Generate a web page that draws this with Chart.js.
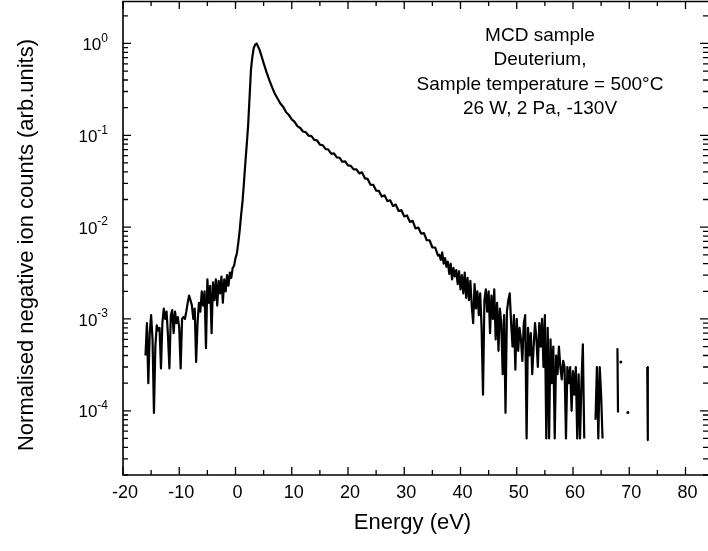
<!DOCTYPE html>
<html>
<head>
<meta charset="utf-8">
<script src="https://cdn.jsdelivr.net/npm/chart.js@4.4.1/dist/chart.umd.min.js"></script>
<style>
  body { margin: 0; background: #fff; }
  canvas { display: block; }
</style>
</head>
<body>
<canvas id="spectrum" width="708" height="551"></canvas>
<script>
// Energy (eV) of each channel
const energy = [
  -16, -15.75, -15.5, -15.25, -15, -14.75, -14.5, -14.25, -14, -13.75,
  -13.5, -13.25, -13, -12.75, -12.5, -12.25, -12, -11.75, -11.5, -11.25,
  -11, -10.75, -10.5, -10.25, -10, -9.75, -9.5, -9.25, -9, -8.75,
  -8.5, -8.25, -8, -7.75, -7.5, -7.25, -7, -6.75, -6.5, -6.25,
  -6, -5.75, -5.5, -5.25, -5, -4.75, -4.5, -4.25, -4, -3.75,
  -3.5, -3.25, -3, -2.75, -2.5, -2.25, -2, -1.75, -1.5, -1.25,
  -1, -0.75, -0.5, -0.25,
  0, 0.25, 0.5, 0.75, 1, 1.25, 1.5, 1.75, 2, 2.25,
  2.5, 2.75, 3, 3.25, 3.5, 3.75, 4, 4.25, 4.5, 4.75,
  5,
  5.5, 6, 6.5, 7, 7.5, 8, 8.5, 9, 9.5, 10,
  10.5, 11, 11.5, 12, 12.5, 13, 13.5, 14, 14.5, 15,
  15.5, 16, 16.5, 17, 17.5, 18, 18.5, 19, 19.5, 20,
  20.5, 21, 21.5, 22, 22.5, 23, 23.5, 24, 24.5, 25,
  25.5, 26, 26.5, 27, 27.5, 28, 28.5, 29, 29.5, 30,
  30.5, 31, 31.5, 32, 32.5, 33, 33.5, 34, 34.5, 35,
  35.5, 36,
  36.25, 36.5, 36.75, 37, 37.25, 37.5, 37.75, 38, 38.25, 38.5,
  38.75, 39, 39.25, 39.5, 39.75, 40, 40.25, 40.5, 40.75, 41,
  41.25, 41.5, 41.75, 42, 42.25, 42.5, 42.75, 43, 43.25, 43.5,
  43.75, 44, 44.25, 44.5, 44.75, 45, 45.25, 45.5, 45.75, 46,
  46.25, 46.5, 46.75, 47, 47.25, 47.5, 47.75, 48, 48.25, 48.5,
  48.75, 49, 49.25, 49.5, 49.75, 50, 50.25, 50.5, 50.75, 51,
  51.25, 51.5, 51.75, 52, 52.25, 52.5, 52.75, 53, 53.25, 53.5,
  53.75, 54, 54.25, 54.5, 54.75, 55, 55.25, 55.5, 55.75, 56,
  56.25, 56.5, 56.75, 57, 57.25, 57.5, 57.75, 58, 58.25, 58.5,
  58.75, 59, 59.25, 59.5, 59.75, 60, 60.25, 60.5, 60.75, 61,
  61.25, 61.5, 61.75, 62, 62.25, 62.5, 62.75, 63, 63.25, 63.5,
  63.75, 64, 64.25, 64.5, 64.75, 65, 65.25, 65.5,
  67.9, 68, 68.25, 68.5, 68.75, 69.75, 70, 73.2, 73.3
];

// Normalised negative ion counts, same order (null = no counts, gap in the log plot)
const counts = [
  4.0e-4, 9.0e-4, 2.0e-4, 7.0e-4, 1.1e-3, 6.0e-4, 9.5e-5, 5.0e-4, 8.5e-4, 7.5e-4,
  8.0e-4, 2.9e-4, 9.0e-4, 1.3e-3, 1.0e-3, 1.2e-3, 6.5e-4, 2.9e-4, 1.1e-3, 1.25e-3,
  7.0e-4, 1.2e-3, 9.0e-4, 1.05e-3, 8.0e-4, 2.9e-4, 1.0e-3, 1.05e-3, 1.0e-3, 1.2e-3,
  1.5e-3, 1.8e-3, 1.6e-3, 1.4e-3, 1.0e-3, 1.3e-3, 3.4e-4, 9.0e-4, 1.5e-3, 1.2e-3,
  2.0e-3, 1.4e-3, 2.0e-3, 4.8e-4, 2.7e-3, 1.5e-3, 2.3e-3, 7.0e-4, 2.5e-3, 1.6e-3,
  2.7e-3, 1.4e-3, 2.6e-3, 1.9e-3, 2.9e-3, 1.5e-3, 2.7e-3, 2.0e-3, 3.0e-3, 2.3e-3,
  3.2e-3, 2.8e-3, 3.6e-3, 3.8e-3,
  4.6e-3, 5.2e-3, 6.8e-3, 9.3e-3, 0.0136, 0.019, 0.0305, 0.05, 0.079, 0.13,
  0.26, 0.52, 0.72, 0.9, 0.97, 1.0, 0.93, 0.86, 0.77, 0.69,
  0.61,
  0.49, 0.40, 0.335, 0.283, 0.250, 0.221, 0.203, 0.178, 0.166, 0.149,
  0.140, 0.126, 0.120, 0.110, 0.108, 0.099, 0.098, 0.089, 0.088, 0.079,
  0.078, 0.071, 0.070, 0.063, 0.0635, 0.0575, 0.057, 0.0515, 0.052, 0.047,
  0.0465, 0.0425, 0.0425, 0.0385, 0.0395, 0.034, 0.0335, 0.029, 0.0288, 0.025,
  0.0248, 0.0215, 0.0222, 0.0192, 0.0196, 0.017, 0.0176, 0.015, 0.0153, 0.0131,
  0.0134, 0.0114, 0.0117, 0.0097, 0.0099, 0.0085, 0.0086, 0.0072, 0.0072, 0.006,
  0.006, 0.0049,
  0.0050, 0.0044, 0.0053, 0.0040, 0.0046, 0.0037, 0.0042, 0.0031, 0.0040, 0.0027,
  0.0036, 0.0029, 0.0034, 0.0024, 0.0033, 0.0021, 0.0030, 0.0019, 0.0032, 0.0017,
  0.0028, 0.0016, 0.0026, 0.0014, 0.0009, 0.0024, 0.0013, 0.0020, 0.0011, 0.0019,
  0.0008, 0.00015, 0.0016, 0.0021, 0.0012, 0.0020, 0.0007, 0.0018, 0.0010, 0.0021,
  0.0006, 0.0015, 0.00045, 0.0013, 0.0009, 0.00025, 0.0011, 0.000095, 0.0012, 0.0016,
  0.0019, 0.0009, 0.0005, 0.0011, 0.00028, 0.0010, 0.00045, 0.0008, 0.0006, 0.00035,
  0.0009, 0.0011, 0.00005, 0.0008, 0.0004, 0.0007, 0.00025, 0.0005, 0.0009, 0.0006,
  0.0003, 0.0009, 0.0005, 0.0010, 0.0003, 0.0011, 0.00005, 0.0008, 0.00005, 0.0006,
  0.0002, 0.0005, 0.00005, 0.0004, 0.00025, 0.0005, 0.0003, 0.00022, 0.00035, 0.0003,
  0.00005, 0.0003, 0.0002, 0.0003, 0.0001, 0.00027, 0.00015, 0.0003, 0.00005, 0.00025,
  0.00005, 0.0002, 0.00053, 0.00005, null, null, null, null, null, null,
  null, 0.00008, 0.0003, 0.00005, 0.0003, 0.00015, 0.00005, null,
  0.00048, 0.000096, null, 0.00034, null, 0.000096, null, 0.0003, 0.000048
];

const xMajorTicks = [-20, -10, 0, 10, 20, 30, 40, 50, 60, 70, 80];
const xMinorTicks = [-15, -5, 5, 15, 25, 35, 45, 55, 65, 75];
const yDecades = [1e-5, 1e-4, 1e-3, 1e-2, 1e-1, 1];
const yDecadeExponents = ['-5', '-4', '-3', '-2', '-1', '0'];
const yMinorSteps = [2, 3, 4, 5, 6, 7, 8, 9];

const noteLines = ['MCD sample', 'Deuterium,', 'Sample temperature = 500\u00B0C', '26 W, 2 Pa, -130V'];
const xTitle = 'Energy (eV)';
const yTitle = 'Normalised negative ion counts (arb.units)';

const FONT = "'Liberation Sans', Arial, sans-serif";

// frame, inward ticks, labels and the note, drawn on the library's scales
const axesPlugin = {
  id: 'axes',
  afterDraw(chart) {
    const { ctx, chartArea: a } = chart;
    const xs = chart.scales.x, ys = chart.scales.y;
    ctx.save();
    ctx.strokeStyle = '#000';
    ctx.fillStyle = '#000';

    ctx.lineWidth = 1.6;
    ctx.beginPath();
    ctx.moveTo(a.right, a.top + 0.5);
    ctx.lineTo(a.left, a.top + 0.5);
    ctx.lineTo(a.left, a.bottom);
    ctx.lineTo(a.right, a.bottom);
    ctx.stroke();

    ctx.lineWidth = 1.3;
    ctx.beginPath();
    const xTick = (v, len) => {
      const px = xs.getPixelForValue(v);
      ctx.moveTo(px, a.bottom); ctx.lineTo(px, a.bottom - len);
      ctx.moveTo(px, a.top); ctx.lineTo(px, a.top + len);
    };
    xMajorTicks.forEach(v => xTick(v, 8));
    xMinorTicks.forEach(v => xTick(v, 5));

    const yTick = (v, len) => {
      if (v < ys.min || v > ys.max) return;
      const py = ys.getPixelForValue(v);
      ctx.moveTo(a.left, py); ctx.lineTo(a.left + len, py);
      ctx.moveTo(a.right, py); ctx.lineTo(a.right - len, py);
    };
    yDecades.forEach(d => {
      yTick(d, 8);
      yMinorSteps.forEach(m => yTick(m * d, 5));
    });
    ctx.stroke();

    // x tick labels
    ctx.font = `18px ${FONT}`;
    ctx.textAlign = 'center';
    ctx.textBaseline = 'middle';
    xMajorTicks.forEach(v => {
      ctx.fillText(String(v), xs.getPixelForValue(v) + 2, a.bottom + 18);
    });

    // y tick labels: 10 with superscript exponent
    yDecades.forEach((d, i) => {
      if (d < ys.min || d > ys.max) return;
      const py = ys.getPixelForValue(d);
      const exp = yDecadeExponents[i];
      ctx.font = `12px ${FONT}`;
      const ew = ctx.measureText(exp).width;
      ctx.textAlign = 'left';
      ctx.fillText(exp, 108 - ew, py - 5);
      ctx.font = `17px ${FONT}`;
      ctx.textAlign = 'right';
      ctx.fillText('10', 108 - ew, py + 2);
    });

    // axis titles
    ctx.font = `22px ${FONT}`;
    ctx.textAlign = 'center';
    ctx.fillText(xTitle, (a.left + a.right) / 2 - 3, 523);
    ctx.save();
    ctx.translate(27, 245);
    ctx.rotate(-Math.PI / 2);
    ctx.fillText(yTitle, 0, 0);
    ctx.restore();

    // note
    ctx.font = `19px ${FONT}`;
    ctx.textBaseline = 'alphabetic';
    const baselines = [41, 65, 90, 114];
    noteLines.forEach((t, i) => ctx.fillText(t, 540, baselines[i]));

    ctx.restore();
  }
};

const points = energy.map((e, i) => ({ x: e, y: counts[i] }));

new Chart(document.getElementById('spectrum'), {
  type: 'line',
  data: {
    datasets: [{
      data: points,
      borderColor: '#000',
      borderWidth: 2.2,
      borderJoinStyle: 'round',
      tension: 0,
      spanGaps: false,
      pointBackgroundColor: '#000',
      pointBorderWidth: 0,
      // single channels between empty ones show up only as dots
      pointRadius: ctx => {
        const i = ctx.dataIndex;
        return counts[i] != null && counts[i - 1] == null && counts[i + 1] == null ? 1.5 : 0;
      }
    }]
  },
  options: {
    responsive: false,
    animation: false,
    layout: { padding: { left: 123, top: 1, right: 0, bottom: 76 } },
    scales: {
      x: { type: 'linear', min: -20, max: 84, display: false },
      y: { type: 'logarithmic', min: 2e-5, max: 2.9, display: false }
    },
    plugins: { legend: { display: false }, tooltip: { enabled: false } }
  },
  plugins: [axesPlugin]
});
</script>
</body>
</html>
